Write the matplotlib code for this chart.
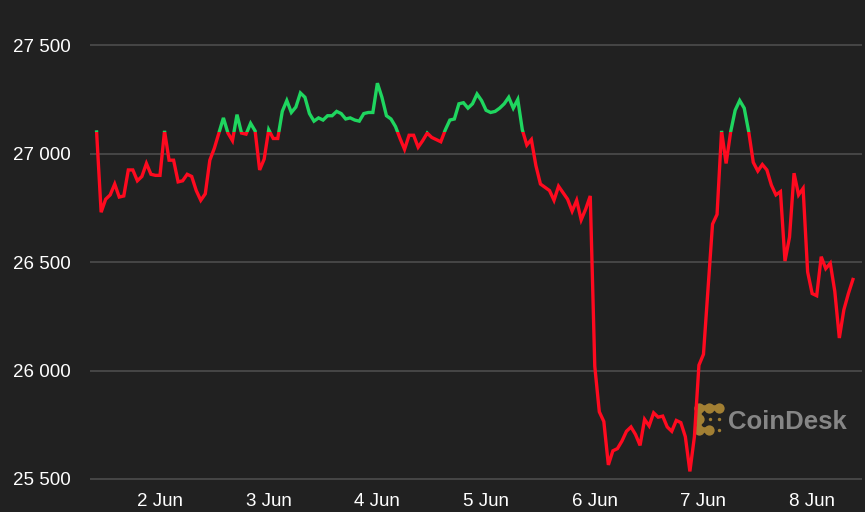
import numpy as np
import pandas as pd
import matplotlib
matplotlib.use("Agg")
import matplotlib.pyplot as plt
from matplotlib.patches import Rectangle
import matplotlib.dates as mdates

# BTC/USD hourly, 1 Jun 10:00 -> 8 Jun 09:00
prices = [
    27100, 26730, 26790, 26810, 26860, 26800, 26805, 26925, 26925, 26875, 26895, 26955,
    26905, 26900, 26900, 27105, 26970, 26970, 26870, 26875, 26905, 26895, 26830, 26785,
    26815, 26970, 27025, 27095, 27165, 27095, 27060, 27180, 27095, 27090, 27140, 27105,
    26925, 26975, 27110, 27070, 27070, 27195, 27245, 27190, 27215, 27280, 27260, 27185,
    27150, 27165, 27155, 27175, 27175, 27195, 27185, 27160, 27165, 27155, 27150, 27185,
    27190, 27190, 27325, 27260, 27175, 27160, 27125, 27070, 27020, 27085, 27085, 27030,
    27060, 27095, 27075, 27065, 27055, 27110, 27155, 27160, 27230, 27235, 27210, 27230,
    27275, 27245, 27200, 27190, 27195, 27210, 27230, 27260, 27210, 27250, 27110, 27040,
    27065, 26945, 26860, 26845, 26830, 26785, 26850, 26820, 26790, 26735, 26785, 26695,
    26745, 26805, 26020, 25810, 25765, 25565, 25630, 25640, 25675, 25720, 25740, 25705,
    25655, 25775, 25745, 25805, 25785, 25790, 25740, 25720, 25770, 25760, 25695, 25535,
    25695, 26025, 26075, 26375, 26675, 26720, 27105, 26955, 27100, 27200, 27245, 27210,
    27100, 26960, 26920, 26950, 26925, 26855, 26810, 26825, 26505, 26615, 26910, 26810,
    26840, 26455, 26355, 26345, 26525, 26470, 26495, 26365, 26150, 26280, 26355, 26420,
]
times = pd.date_range("2023-06-01 10:00", periods=len(prices), freq="h")

y_ticks = [25500, 26000, 26500, 27000, 27500]
day_ticks = pd.date_range("2023-06-02", "2023-06-08", freq="D")
day_labels = [f"{d.day} {d:%b}" for d in day_ticks]

threshold = prices[0]  # green above the opening price, red below

bg = "#212121"
red = "#ff0a1f"
green = "#1fd65f"

plt.rcParams["font.family"] = ["Liberation Sans", "DejaVu Sans"]

fig = plt.figure(figsize=(8.65, 5.12), dpi=100, facecolor=bg)
ax = fig.add_axes([0.104, 0.056, 0.8925, 0.898])
ax.set_facecolor(bg)

x0 = pd.Timestamp("2023-06-01 08:32")
x1 = pd.Timestamp("2023-06-08 11:00")
ax.set_xlim(x0, x1)
ax.set_ylim(25480, 27600)

xn0, xn1 = mdates.date2num(x0), mdates.date2num(x1)
lo = Rectangle((xn0, 0), xn1 - xn0, threshold, transform=ax.transData)
hi = Rectangle((xn0, threshold), xn1 - xn0, 100000, transform=ax.transData)

l_red, = ax.plot(times, prices, color=red, lw=2.4, solid_joinstyle="miter", zorder=3)
l_red.set_clip_path(lo)
l_green, = ax.plot(times, prices, color=green, lw=2.4, solid_joinstyle="miter", zorder=3)
l_green.set_clip_path(hi)

ax.set_yticks(y_ticks)
ax.set_yticklabels([f"{v:,}".replace(",", " ") for v in y_ticks])
ax.set_xticks(day_ticks)
ax.set_xticklabels(day_labels)
ax.yaxis.grid(True, color="#474747", lw=1.4)
ax.set_axisbelow(True)
for s in ax.spines.values():
    s.set_visible(False)
ax.tick_params(axis="y", length=0, colors="white", labelsize=13.5, pad=14)
ax.tick_params(axis="x", length=0, colors="white", labelsize=13.5, pad=7)

# CoinDesk watermark
gold = "#a27f33"
bx = [0.789, 0.802, 0.815, 0.789, 0.789, 0.802]
by = [0.1637, 0.1637, 0.1637, 0.140, 0.116, 0.116]
ax.scatter(bx, by, s=55, color=gold, transform=ax.transAxes, zorder=1, lw=0)
ax.plot([0.789, 0.815], [0.1637, 0.1637], color=gold, lw=4, transform=ax.transAxes, zorder=1)
ax.plot([0.789, 0.789, 0.802], [0.1637, 0.116, 0.116], color=gold, lw=4, transform=ax.transAxes, zorder=1)
ax.scatter([0.803, 0.815, 0.815], [0.140, 0.140, 0.116], s=6, color=gold, transform=ax.transAxes, zorder=1, lw=0)
ax.text(0.826, 0.118, "CoinDesk", transform=ax.transAxes, color="#868686",
        fontsize=18.5, fontweight="bold", va="baseline", ha="left", zorder=1)

fig.savefig("out.png", dpi=100, facecolor=bg)
